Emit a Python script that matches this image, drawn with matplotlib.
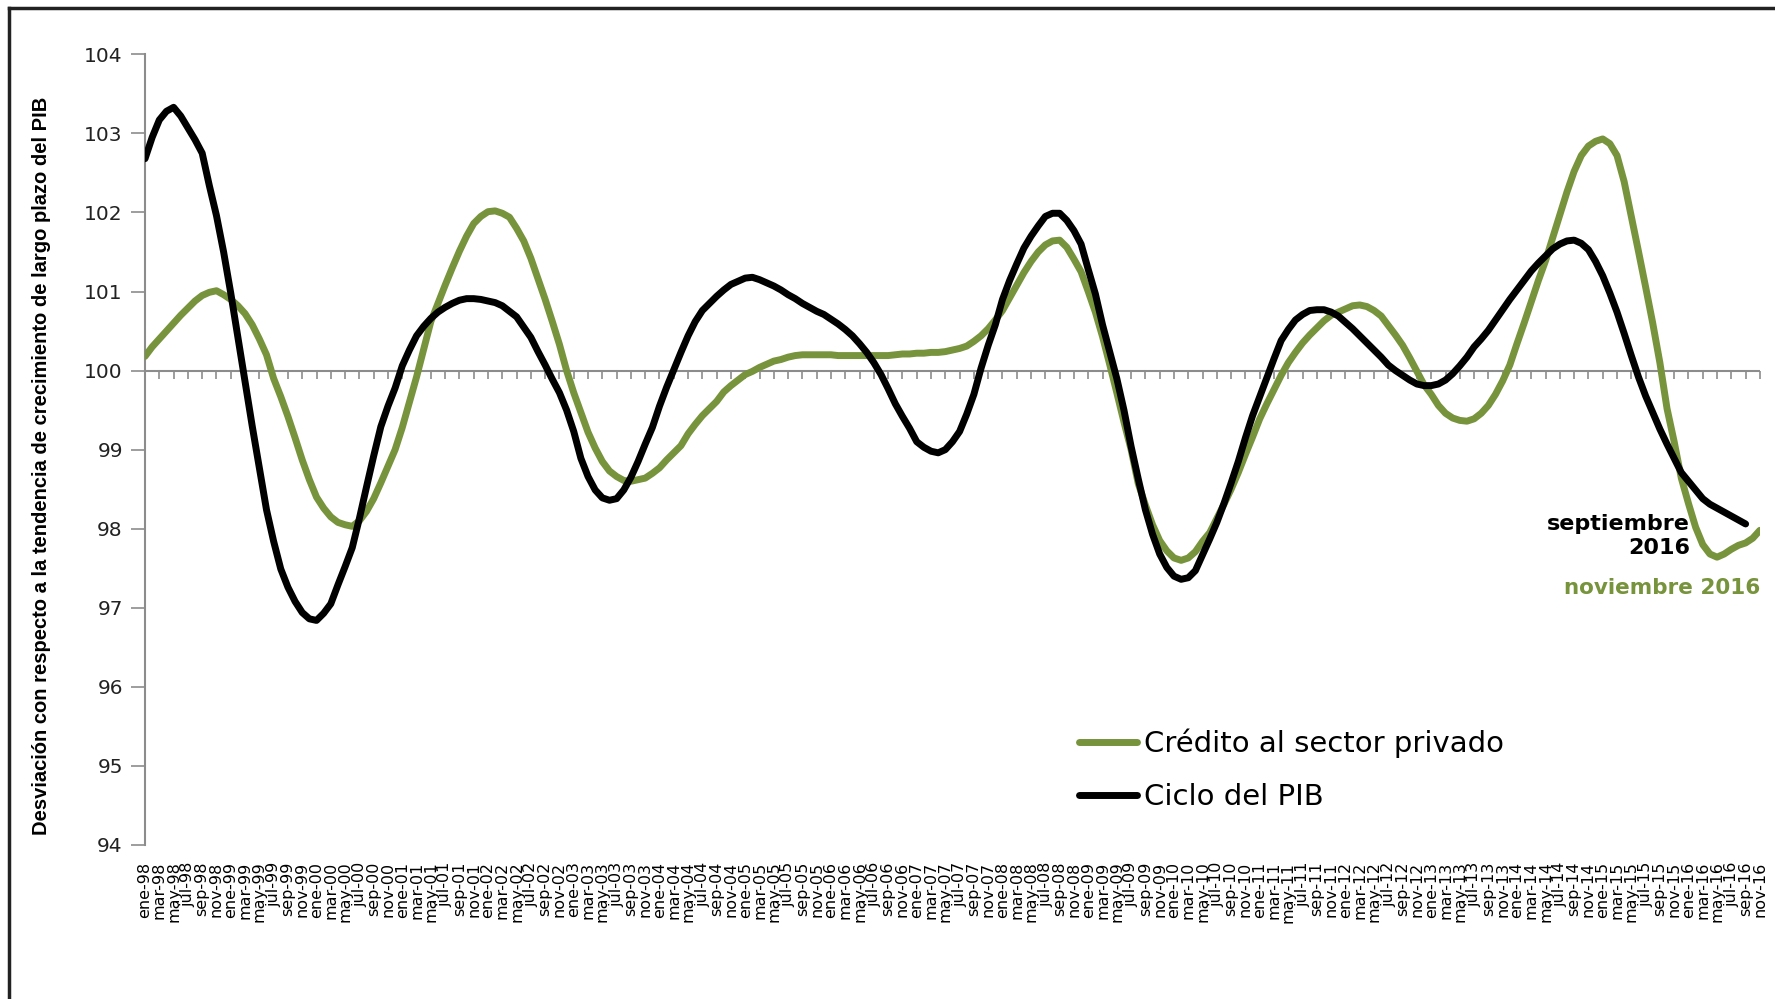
import matplotlib
matplotlib.use("Agg")
import matplotlib.pyplot as plt
from matplotlib.lines import Line2D
import numpy as np

# ---- Data (monthly, ene-98 .. nov-16) ----
month_names = ['ene', 'feb', 'mar', 'abr', 'may', 'jun', 'jul', 'ago', 'sep', 'oct', 'nov', 'dic']
start_year = 1998
n_months_credit = 227   # ene-98 .. nov-16
n_months_pib = 225      # ene-98 .. sep-16

credito = [
    100.18, 100.30, 100.40, 100.50, 100.60, 100.70, 100.79, 100.88, 100.95, 100.99,
    101.01, 100.96, 100.90, 100.82, 100.72, 100.58, 100.40, 100.20, 99.90, 99.67,
    99.42, 99.15, 98.87, 98.62, 98.40, 98.26, 98.15, 98.08, 98.05, 98.03,
    98.10, 98.22, 98.38, 98.58, 98.79, 99.00, 99.28, 99.60, 99.92, 100.27,
    100.62, 100.85, 101.08, 101.30, 101.51, 101.70, 101.86, 101.95, 102.01, 102.02,
    101.99, 101.94, 101.80, 101.64, 101.42, 101.16, 100.90, 100.62, 100.33, 100.00,
    99.72, 99.47, 99.22, 99.02, 98.85, 98.73, 98.66, 98.61, 98.60, 98.62,
    98.64, 98.70, 98.77, 98.87, 98.96, 99.05, 99.20, 99.32, 99.43, 99.52,
    99.61, 99.73, 99.81, 99.88, 99.95, 99.99, 100.04, 100.08, 100.12, 100.14,
    100.17, 100.19, 100.20, 100.20, 100.20, 100.20, 100.20, 100.19, 100.19, 100.19,
    100.19, 100.19, 100.19, 100.19, 100.19, 100.20, 100.21, 100.21, 100.22, 100.22,
    100.23, 100.23, 100.24, 100.26, 100.28, 100.31, 100.37, 100.44, 100.53, 100.64,
    100.76, 100.92, 101.08, 101.24, 101.38, 101.50, 101.59, 101.64, 101.65, 101.56,
    101.41, 101.25, 101.00, 100.74, 100.43, 100.08, 99.72, 99.35, 99.00, 98.57,
    98.30, 98.05, 97.85, 97.72, 97.63, 97.60, 97.63, 97.71, 97.84, 97.95,
    98.13, 98.31, 98.50, 98.71, 98.94, 99.16, 99.39, 99.58, 99.76, 99.94,
    100.10, 100.23, 100.35, 100.45, 100.54, 100.63, 100.70, 100.74, 100.78, 100.82,
    100.83, 100.81, 100.76, 100.69, 100.57, 100.45, 100.32, 100.16, 99.99, 99.82,
    99.70, 99.56, 99.46, 99.40, 99.37, 99.36, 99.39, 99.46, 99.56, 99.70,
    99.87, 100.07, 100.34, 100.60, 100.87, 101.14, 101.39, 101.68, 101.97, 102.26,
    102.52, 102.72, 102.84, 102.90, 102.93, 102.87, 102.72, 102.39, 101.95, 101.51,
    101.06, 100.60, 100.10, 99.52, 99.10, 98.64, 98.32, 98.02, 97.80, 97.68,
    97.64, 97.68, 97.74, 97.79, 97.82, 97.88, 97.98,
]

ciclo_pib = [
    102.68, 102.95, 103.17, 103.28, 103.33, 103.22, 103.07, 102.92, 102.75, 102.34,
    101.96, 101.50, 100.98, 100.42, 99.86, 99.30, 98.77, 98.24, 97.84, 97.49,
    97.26, 97.08, 96.94, 96.86, 96.84, 96.93, 97.05, 97.29, 97.52, 97.76,
    98.13, 98.53, 98.92, 99.29, 99.55, 99.78, 100.06, 100.26, 100.44, 100.56,
    100.66, 100.74, 100.80, 100.85, 100.89, 100.91, 100.91, 100.90, 100.88, 100.86,
    100.82, 100.75, 100.68, 100.55, 100.42, 100.24, 100.07, 99.89, 99.72, 99.50,
    99.23, 98.89, 98.66, 98.49, 98.39, 98.36, 98.38, 98.49, 98.65, 98.85,
    99.07, 99.28, 99.55, 99.79, 100.01, 100.23, 100.44, 100.62, 100.76, 100.85,
    100.94, 101.02, 101.09, 101.13, 101.17, 101.18, 101.15, 101.11, 101.07, 101.02,
    100.96, 100.91, 100.85, 100.80, 100.75, 100.71, 100.65, 100.59, 100.52, 100.44,
    100.34, 100.23, 100.10, 99.95, 99.77, 99.58, 99.42, 99.27, 99.10, 99.03,
    98.98, 98.96, 99.00, 99.10, 99.23, 99.45, 99.70, 100.03, 100.32, 100.58,
    100.90, 101.14, 101.35, 101.55, 101.70, 101.83, 101.95, 101.99, 101.99, 101.90,
    101.77, 101.60, 101.28, 100.97, 100.58, 100.24, 99.90, 99.50, 99.04, 98.63,
    98.24, 97.93, 97.68, 97.51, 97.40, 97.36, 97.38, 97.47, 97.67, 97.87,
    98.08, 98.32, 98.58, 98.85, 99.15, 99.43, 99.67, 99.91, 100.15, 100.38,
    100.52, 100.64, 100.71, 100.76, 100.77, 100.77, 100.74, 100.69, 100.61, 100.53,
    100.44, 100.35, 100.26, 100.17, 100.07, 100.00, 99.94, 99.88, 99.83, 99.81,
    99.81, 99.83, 99.88, 99.96, 100.06, 100.17, 100.30, 100.40, 100.51, 100.64,
    100.77, 100.90, 101.02, 101.14, 101.26, 101.36, 101.45, 101.54, 101.60, 101.64,
    101.65, 101.61, 101.53, 101.38, 101.20, 100.98, 100.74, 100.47, 100.19, 99.92,
    99.68, 99.47, 99.26, 99.07, 98.89, 98.71, 98.60, 98.49, 98.38, 98.31,
    98.26, 98.21, 98.16, 98.11, 98.06,
]

yticks = [94, 95, 96, 97, 98, 99, 100, 101, 102, 103, 104]
series_names = ['Crédito al sector privado', 'Ciclo del PIB']
ylabel_text = 'Desviación con respecto a la tendencia de crecimiento de largo plazo del PIB'
note_pib = 'septiembre\n2016'
note_credit = 'noviembre 2016'

# month labels
all_labels = [f"{month_names[i % 12]}-{(start_year + i // 12) % 100:02d}" for i in range(n_months_credit)]
x_credit = np.arange(len(credito))
x_pib = np.arange(len(ciclo_pib))
tick_pos = list(range(0, n_months_credit, 2))
tick_lab = [all_labels[i] for i in tick_pos]

GREEN = '#77933C'
GRAY = '#8c8c8c'

fig = plt.figure(figsize=(17.75, 9.99), dpi=100)
ax = fig.add_axes([0.0817, 0.1542, 0.9098, 0.7914])

l1, = ax.plot(x_credit, credito, color=GREEN, lw=5, solid_capstyle='round', solid_joinstyle='round', zorder=3)
l2, = ax.plot(x_pib, ciclo_pib, color='black', lw=5, solid_capstyle='round', solid_joinstyle='round', zorder=4)

ax.set_xlim(0, n_months_credit - 1)
ax.set_ylim(94, 104)
ax.set_yticks(yticks)
ax.set_yticklabels([str(v) for v in yticks], fontsize=14.5, color='#222222')
ax.tick_params(axis='y', direction='out', length=10, width=1.2, color=GRAY, pad=6)

for s in ['top', 'right', 'bottom']:
    ax.spines[s].set_visible(False)
ax.spines['left'].set_color(GRAY)
ax.spines['left'].set_linewidth(1.5)

# bottom labels (no tick marks)
ax.set_xticks(tick_pos)
ax.set_xticklabels(tick_lab, rotation=90, fontsize=11.5, color='black')
ax.tick_params(axis='x', length=0, pad=12)

# axis line at 100 with tick marks
ax.axhline(100, color=GRAY, lw=1.5, zorder=1)
sec = ax.secondary_xaxis(0.6)
sec.set_xticks(tick_pos)
sec.tick_params(axis='x', direction='in', length=6, width=1.2, color=GRAY,
                labeltop=False, labelbottom=False)
for s in sec.spines.values():
    s.set_visible(False)

ax.set_ylabel(ylabel_text, fontsize=14.5, fontweight='bold',
              family=['Liberation Sans Narrow', 'Liberation Sans', 'DejaVu Sans'])
ax.yaxis.set_label_coords(-0.058, 0.48)

# legend
leg = ax.legend([l1, l2], series_names, loc='upper left', bbox_to_anchor=(0.562, 0.18),
                frameon=False, fontsize=21, handlelength=2.0, handletextpad=0.25,
                labelspacing=0.85)

# annotations
ax.text(0.9566, 0.418, note_pib, transform=ax.transAxes, ha='right', va='top',
        fontsize=16, fontweight='bold', color='black', linespacing=1.2)
ax.text(1.0, 0.338, note_credit, transform=ax.transAxes, ha='right', va='top',
        fontsize=15.5, fontweight='bold', color=GREEN)

# outer frame (left and top edges)
fig.add_artist(Line2D([0.0053, 0.0053], [0.0, 0.9915], transform=fig.transFigure,
                      color='#222222', lw=2.5))
fig.add_artist(Line2D([0.0053, 1.0], [0.9915, 0.9915], transform=fig.transFigure,
                      color='#222222', lw=2.5))

fig.savefig('out.png', dpi=100)
